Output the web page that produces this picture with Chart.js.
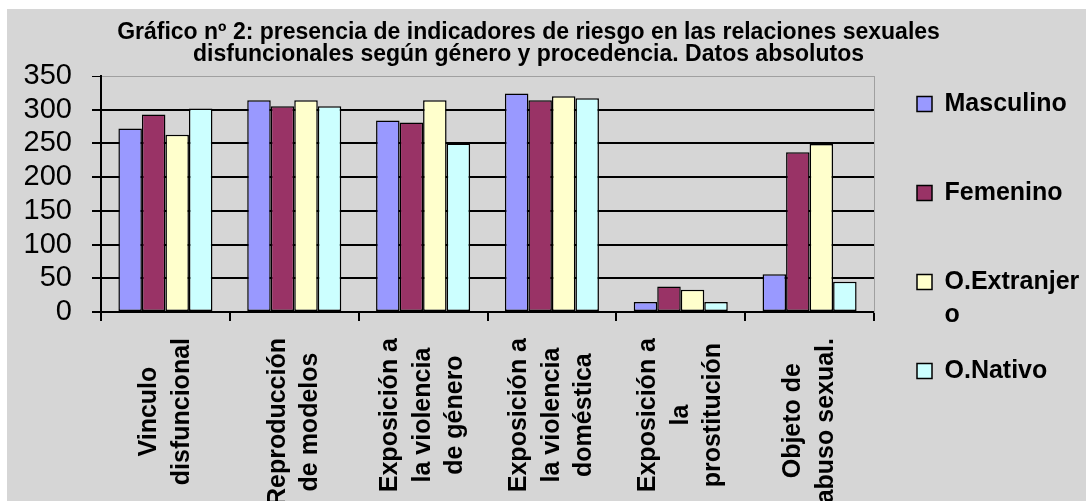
<!DOCTYPE html>
<html>
<head>
<meta charset="utf-8">
<script src="https://cdn.jsdelivr.net/npm/chart.js"></script>
<style>
body{margin:0;background:#fff}
#box{position:absolute;left:7px;top:9px;width:1079px;height:492px;background:#d6d6d6}
</style>
</head>
<body>
<div id="box"><canvas id="grafico" width="1079" height="492"></canvas></div>
<script>

/* DATOS */

const categorias=[
["Vinculo","disfuncional"],
["Reproducción","de modelos"],
["Exposición a","la violencia","de género"],
["Exposición a","la violencia","doméstica"],
["Exposición a","la","prostitución"],
["Objeto de","abuso sexual."]
]

const series=["Masculino","Femenino","O.Extranjero","O.Nativo"]

const masculino=[272,314,284,324,15,56]
const femenino=[293,305,281,314,38,237]
const extranjero=[263,314,314,320,33,249]
const nativo=[302,305,250,317,15,45]

const yTicks=[0,50,100,150,200,250,300,350]

const titulo=[
"Gráfico nº 2: presencia de indicadores de riesgo en las relaciones sexuales",
"disfuncionales según género y procedencia. Datos absolutos"
]

const colores=["#9999ff","#993366","#ffffcc","#ccffff"]

/* ETIQUETAS DEL EJE X (centradas, giradas) */

const FONT='"Liberation Sans", Arial, sans-serif'

const etiquetasX={
id:"etiquetasX",
afterDraw(chart){
const ctx=chart.ctx
const x=chart.scales.x
ctx.save()
ctx.font="bold 25px "+FONT
ctx.fillStyle="#000"
ctx.textAlign="center"
ctx.textBaseline="middle"
chart.data.labels.forEach((lineas,i)=>{
const cx=x.getPixelForValue(i)
const largo=Math.max(...lineas.map(l=>ctx.measureText(l).width))
const cy=x.top+26+largo/2
ctx.save()
ctx.translate(cx,cy)
ctx.rotate(-Math.PI/2)
lineas.forEach((l,j)=>ctx.fillText(l,0,(j-(lineas.length-1)/2)*32.5))
ctx.restore()
})
ctx.restore()
}
}

function partir(t){
return t.length>11 ? [t.slice(0,11),t.slice(11)] : [t,""]
}

Chart.defaults.font.family=FONT
Chart.defaults.color="#000"

const datos=[masculino,femenino,extranjero,nativo]

new Chart(document.getElementById("grafico"),{
type:"bar",
data:{
labels:categorias,
datasets:series.map((s,i)=>({
label:s,
data:datos[i],
backgroundColor:colores[i],
borderColor:"#000",
borderWidth:1.5,
borderSkipped:false,
categoryPercentage:0.73,
barPercentage:1
}))
},
options:{
responsive:false,
animation:false,
layout:{padding:{top:6,right:0,left:-36,bottom:0}},
plugins:{
tooltip:{enabled:false},
title:{
display:true,
text:titulo,
color:"#000",
font:{size:23,weight:"bold",lineHeight:0.957},
padding:{top:7,bottom:10}
},
legend:{
position:"right",
align:"center",
maxWidth:192,
labels:{
boxWidth:15,
boxHeight:15,
padding:23,
color:"#000",
font:{size:25,weight:"bold",lineHeight:1.32},
generateLabels(chart){
const items=Chart.defaults.plugins.legend.labels.generateLabels(chart)
items.forEach(it=>{it.text=partir(it.text)})
return items
}
}
}
},
scales:{
x:{
ticks:{display:false},
grid:{display:true,drawOnChartArea:false,drawTicks:true,tickLength:9,color:"#000",lineWidth:2,offset:true},
border:{display:true,color:"#000",width:2},
afterFit(s){s.height=189}
},
y:{
min:0,
max:350,
afterBuildTicks(s){s.ticks=yTicks.map(v=>({value:v}))},
ticks:{font:{size:29},color:"#000",padding:20,autoSkip:false},
grid:{
color:c=>c.tick && c.tick.value===350 ? "#a0a0a0" : "#000",
lineWidth:c=>c.tick && c.tick.value===350 ? 1 : 2,
tickColor:"#000",
tickLength:9
},
border:{display:true,color:"#000",width:2},
afterFit(s){s.width=130}
},
y2:{
position:"right",
ticks:{display:false},
grid:{display:false,drawTicks:false},
border:{display:true,color:"#a0a0a0",width:1},
afterFit(s){s.width=20}
}
}
},
plugins:[etiquetasX]
})

</script>
</body>
</html>
